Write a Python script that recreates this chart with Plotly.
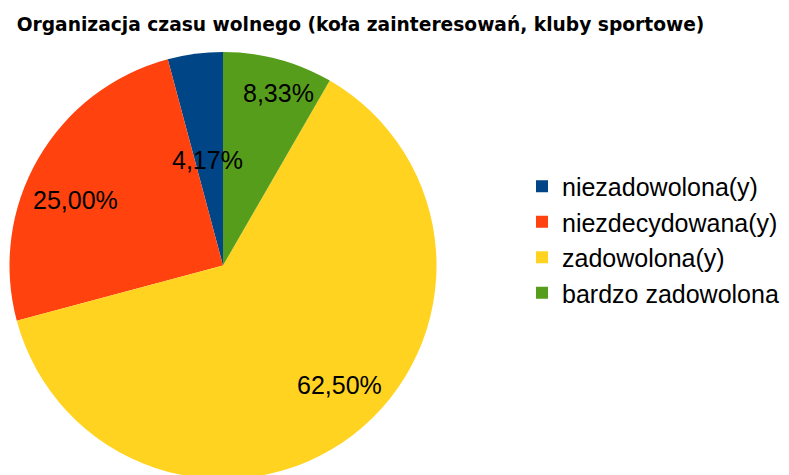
import math
import plotly.graph_objects as go

categories = ["niezadowolona(y)", "niezdecydowana(y)", "zadowolona(y)", "bardzo zadowolona"]
counts = [1, 6, 15, 2]
percent_labels = ["4,17%", "25,00%", "62,50%", "8,33%"]
colors = ["#004586", "#ff420e", "#ffd320", "#579d1c"]

# label placement style (radius fraction, angle shift in degrees)
label_rfrac = [0.50, 0.758, 0.782, 0.848]
label_shift = [-0.6, -6.1, -6.9, 2.7]

W, H = 789, 475
OFF = 8  # page body margin
cx, cy, R = 223 - OFF, 265.5 - OFF, 213.5
top = cy - R
bottom_px = cy + R
mt, mb = top, H - bottom_px
ph = H - mt - mb

total = sum(counts)
start = -360.0 * counts[0] / total  # first slice goes counterclockwise from 12 o'clock

fig = go.Figure(go.Pie(
    labels=categories,
    values=counts,
    textinfo="none",
    sort=False,
    direction="counterclockwise",
    rotation=start,
    marker=dict(colors=colors, line=dict(width=0)),
    hoverinfo="skip",
    domain=dict(x=[(cx - R) / W, (cx + R) / W], y=[0, 1]),
))

# labels at the mid angle of each slice (angles clockwise from 12 o'clock)
ann = []
acc = 0.0
for i, (v, t) in enumerate(zip(counts, percent_labels)):
    mid = -(acc + v / 2) / total * 360.0 + label_shift[i]
    acc += v
    th = math.radians(mid)
    px = cx + label_rfrac[i] * R * math.sin(th)
    py = cy - label_rfrac[i] * R * math.cos(th)
    ann.append(dict(
        x=px / W, y=(H - mb - py) / ph, xref="paper", yref="paper",
        text=t, showarrow=False, xanchor="center", yanchor="middle",
        font=dict(family="Liberation Sans", size=25, color="black"),
    ))

fig.update_layout(
    width=W, height=H,
    margin=dict(l=0, r=0, t=mt, b=mb),
    paper_bgcolor="white",
    plot_bgcolor="white",
    font=dict(family="Liberation Sans", color="black"),
    annotations=ann,
    title=dict(
        text="Organizacja czasu wolnego (koła zainteresowań, kluby sportowe)",
        font=dict(family="DejaVu Sans", size=18.65, color="black", weight="bold"),
        x=8.7 / W, xanchor="left", xref="paper",
        y=1 - 16.5 / H, yanchor="middle", yref="container",
    ),
    legend=dict(
        x=514 / W, xanchor="left",
        y=(H - mb - 231.5) / ph, yanchor="middle",
        font=dict(family="Liberation Sans", size=25, color="black"),
        bgcolor="rgba(0,0,0,0)",
    ),
    showlegend=True,
)

fig.write_html("out.html")
